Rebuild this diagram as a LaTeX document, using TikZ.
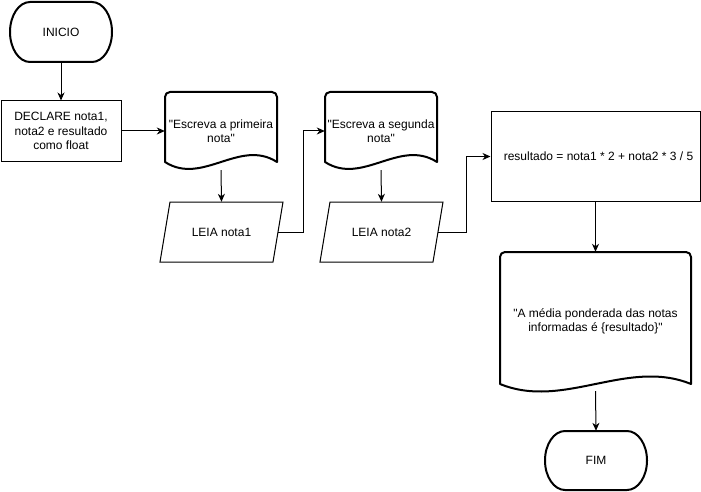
\documentclass[tikz,border=0pt]{standalone}
\usepackage{fontspec}
\newfontfamily\lfont{Liberation Sans}
\usetikzlibrary{arrows.meta}
\begin{document}
\begin{tikzpicture}[x=1pt,y=-1pt,
  thinline/.style={line width=1pt, line join=miter},
  thickline/.style={line width=2pt, line join=round},
  lbl/.style={font=\lfont\fontsize{12}{14.5}\selectfont, align=center, inner sep=0pt, draw=none},
  box/.style={lbl, draw, line width=1pt},
  conn/.style={line width=1pt, -{Stealth[length=8pt,width=7pt,inset=2.5pt]}}]
\useasboundingbox[fill=white] (0,0) rectangle (701,492);

% ---- nodes (text + anchors) ----
\node[lbl, minimum width=102pt, minimum height=60pt] (ini) at (61,32) {INICIO};
\node[box, minimum width=120pt, minimum height=60pt] (decl) at (61,131) {DECLARE nota1,\\nota2 e resultado\\como float};
\node[lbl, minimum width=112pt, minimum height=78pt] (d1) at (221,131) {"Escreva a primeira\\nota"};
\node[lbl, minimum width=113pt, minimum height=60pt] (lei1) at (221.5,232) {LEIA nota1};
\node[lbl, minimum width=112pt, minimum height=78pt] (d2) at (381,131) {"Escreva a segunda\\nota"};
\node[lbl, minimum width=113pt, minimum height=60pt] (lei2) at (381.5,232) {LEIA nota2};
\node[box, minimum width=209pt, minimum height=89pt] (res) at (595.5,156.5) {\hspace*{6pt}resultado = nota1 * 2 + nota2 * 3 / 5};
\node[lbl, minimum width=190pt, minimum height=139pt] (d3) at (595.5,321.5) {"A média ponderada das notas\\informadas é \{resultado\}"};
\node[lbl, minimum width=102pt, minimum height=59pt] (fim) at (596,460.5) {FIM};

% ---- outlines ----
% INICIO terminator
\draw[thickline] (30,2) .. controls (19,2) and (10,15.4) .. (10,32)
  .. controls (10,48.6) and (19,62) .. (30,62) -- (92,62)
  .. controls (103,62) and (112,48.6) .. (112,32)
  .. controls (112,15.4) and (103,2) .. (92,2) -- cycle;
% FIM terminator
\draw[thickline] (565,431) .. controls (554,431) and (545,444.2) .. (545,460.5)
  .. controls (545,476.8) and (554,490) .. (565,490) -- (627,490)
  .. controls (638,490) and (647,476.8) .. (647,460.5)
  .. controls (647,444.2) and (638,431) .. (627,431) -- cycle;
% document 1
\draw[thickline] (165,162) -- (165,97) .. controls (165,94.2) and (167.2,92) .. (170,92)
  -- (272,92) .. controls (274.8,92) and (277,94.2) .. (277,97) -- (277,162)
  .. controls (239.7,138) and (202.3,186) .. (165,162) -- cycle;
% document 2
\draw[thickline] (325,162) -- (325,97) .. controls (325,94.2) and (327.2,92) .. (330,92)
  -- (432,92) .. controls (434.8,92) and (437,94.2) .. (437,97) -- (437,162)
  .. controls (399.7,138) and (362.3,186) .. (325,162) -- cycle;
% document 3
\draw[thickline] (500,384) -- (500,257) .. controls (500,254.2) and (502.2,252) .. (505,252)
  -- (686,252) .. controls (688.8,252) and (691,254.2) .. (691,257) -- (691,384)
  .. controls (627.3,358) and (563.7,410) .. (500,384) -- cycle;
% parallelograms
\draw[thinline] (170,202) -- (283,202) -- (273,262) -- (160,262) -- cycle;
\draw[thinline] (330,202) -- (443,202) -- (433,262) -- (320,262) -- cycle;

% ---- connectors ----
\draw[conn] (ini.south) -- (decl.north);
\draw[conn] (decl.east) -- (decl.east -| d1.west);
\draw[conn] (d1.south) -- (lei1.north);
\draw[conn] (lei1.east) -- ++(25,0) |- (d2.west);
\draw[conn] (d2.south) -- (lei2.north);
\draw[conn] (lei2.east) -- ++(28,0) |- (res.west);
\draw[conn] (res.south) -- (d3.north);
\draw[conn] (d3.south) -- (fim.north);
\end{tikzpicture}
\end{document}
